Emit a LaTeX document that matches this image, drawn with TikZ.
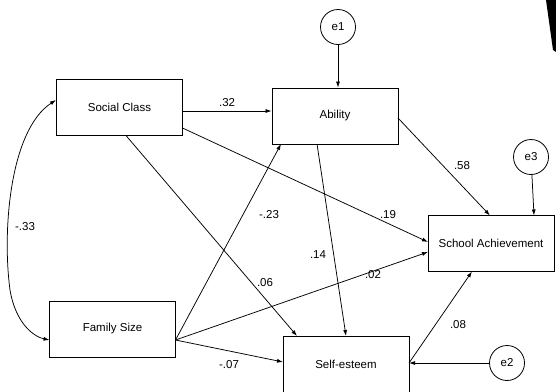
\documentclass[tikz,border=0pt]{standalone}
\usepackage{fontspec}
\setmainfont{Liberation Sans}
\usetikzlibrary{arrows.meta}
\begin{document}
\begin{tikzpicture}[x=1pt,y=-1pt,
  box/.style={draw,line width=0.8pt,minimum width=126pt,minimum height=56pt,inner sep=0pt,font=\fontsize{11.5}{13}\selectfont},
  err/.style={draw,circle,line width=0.8pt,minimum size=35pt,inner sep=0pt,font=\fontsize{11.5}{13}\selectfont},
  path/.style={line width=0.75pt,-{Latex[length=6pt,width=4pt]}},
  lab/.style={font=\fontsize{11.5}{13}\selectfont,inner sep=1pt}]
\useasboundingbox (0,0) rectangle (556,391);
\node[box] (sc) at (119.5,107.5) {Social Class};
\node[box] (ab) at (335,116) {Ability};
\node[box] (fs) at (112.5,329) {Family Size};
\node[box] (se) at (346,364) {Self-esteem};
\node[box] (sa) at (491,243.5) {School Achievement};
\node[err] (e1) at (338,27) {e1};
\node[err] (e3) at (531,157) {e3};
\node[err] (e2) at (507,363) {e2};
\coordinate (sc1) at (182.5,111);
\coordinate (sc2) at (182.5,128);
\coordinate (sc3) at (126,135.5);
\coordinate (fs1) at (175.5,340);
\coordinate (ab1) at (317,144);
\coordinate (ab2) at (398,118);
\coordinate (se1) at (409,363);
\coordinate (abB) at (281,144);
\coordinate (seT) at (297,336);
\coordinate (seT2) at (346,336);
\coordinate (seL) at (283,362);
\coordinate (saL1) at (428,242);
\coordinate (saL2) at (428,252);
\coordinate (saT) at (490,215.5);
\coordinate (saT2) at (534,215.5);
\coordinate (saB) at (472,271.5);
\coordinate (scL) at (56,100);
\coordinate (fsL) at (49.5,340);
\draw[path] (sc1) -- (ab.west |- sc1) node[lab,midway,above=3pt] {.32};
\draw[path] (sc2) -- (saL1);
\draw[path] (sc3) -- (seT);
\draw[path] (fs1) -- (abB);
\draw[path] (fs1) -- (saL2);
\draw[path] (fs1) -- (seL);
\draw[path] (ab1) -- (seT2);
\draw[path] (ab2) -- (saT);
\draw[path] (e1) -- (ab.north -| e1);
\draw[path] (e3) -- (saT2);
\draw[path] (e2) -- (se1);
\draw[path] (se1) -- (saB);
\draw[line width=0.75pt,{Latex[length=6pt,width=4pt]}-{Latex[length=6pt,width=4pt]}] (scL) .. controls (10,130) and (2,230) .. (10,290) .. controls (16,325) and (35,337) .. (fsL);
\node[lab] (l19) at (388,215) {.19};
\node[lab] (l06) at (265,283) {.06};
\node[lab] (l23) at (269,215) {-.23};
\node[lab] (l02) at (373,275) {.02};
\node[lab] (l07) at (229,365) {-.07};
\node[lab] (l14) at (318,255) {.14};
\node[lab] (l58) at (462,166) {.58};
\node[lab] (l08) at (458,325) {.08};
\node[lab] (l33) at (25,227) {-.33};
\fill (546,0) -- (556,0) -- (556,52) -- (553,50) -- cycle;
\end{tikzpicture}
\end{document}
